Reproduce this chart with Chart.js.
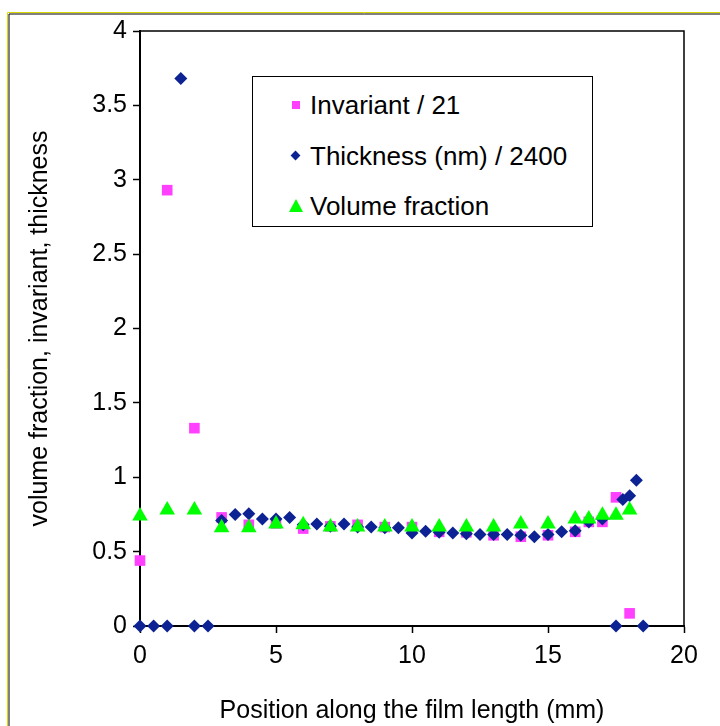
<!DOCTYPE html>
<html>
<head>
<meta charset="utf-8">
<script src="https://cdn.jsdelivr.net/npm/chart.js@4/dist/chart.umd.min.js"></script>
<style>
  html, body { margin: 0; padding: 0; background: #fff; }
  #wrap { position: relative; width: 720px; height: 726px; overflow: hidden; }
  #legend {
    position: absolute; left: 252px; top: 76px; width: 341px; height: 151px;
    box-sizing: border-box; border: 1.5px solid #000; background: #fff;
    font-family: "Liberation Sans", Arial, sans-serif; font-size: 26px; color: #000;
  }
  .row { position: absolute; left: 0; height: 30px; line-height: 30px; white-space: nowrap; }
  .row .txt { position: absolute; left: 57px; top: 0; }
  .mk { position: absolute; }
  .mk.rect { width: 8px; height: 8px; left: 39px; top: 11px; }
  .mk.rectRot { width: 7px; height: 7px; left: 39px; top: 11px; transform: rotate(45deg); }
  .mk.triangle { width: 0; height: 0; left: 36px; top: 8px; border-left: 7px solid transparent; border-right: 7px solid transparent; }
</style>
</head>
<body>
<div id="wrap">
  <canvas id="chart" width="720" height="726"></canvas>
  <div id="legend"></div>
</div>
<script>
'use strict';

// ---- data ----
var invX   = [0, 1, 2, 3, 4, 5, 6, 7, 8, 9, 10, 11, 12, 13, 14, 15, 16, 16.5, 17, 17.5, 18]
var invY   = [0.44, 2.93, 1.33, 0.73, 0.68, 0.69, 0.655, 0.67, 0.68, 0.665, 0.665, 0.633, 0.63, 0.61, 0.60, 0.61, 0.633, 0.70, 0.70, 0.865, 0.085]

var thickX = [0, 0.5, 1, 1.5, 2, 2.5, 3, 3.5, 4, 4.5, 5, 5.5, 6, 6.5, 7, 7.5, 8, 8.5, 9, 9.5,
              10, 10.5, 11, 11.5, 12, 12.5, 13, 13.5, 14, 14.5, 15, 15.5, 16, 16.5, 17, 17.5, 17.75, 18, 18.25, 18.5]
var thickY = [0, 0, 0, 3.68, 0, 0, 0.71, 0.75, 0.755, 0.72, 0.72, 0.73, 0.68, 0.685, 0.67, 0.685, 0.665, 0.665, 0.66, 0.66,
              0.625, 0.637, 0.63, 0.626, 0.62, 0.615, 0.615, 0.615, 0.61, 0.60, 0.615, 0.633, 0.64, 0.70, 0.72, 0, 0.85, 0.875, 0.98, 0]

var volX   = [0, 1, 2, 3, 4, 5, 6, 7, 8, 9, 10, 11, 12, 13, 14, 15, 16, 16.5, 17, 17.5, 18]
var volY   = [0.74, 0.78, 0.78, 0.66, 0.66, 0.685, 0.68, 0.665, 0.665, 0.665, 0.665, 0.665, 0.665, 0.665, 0.685, 0.685, 0.72, 0.72, 0.745, 0.745, 0.78]

var seriesLabels = ['Invariant / 21', 'Thickness (nm) / 2400', 'Volume fraction']
var xTicks = [0, 5, 10, 15, 20]
var yTicks = [0, 0.5, 1, 1.5, 2, 2.5, 3, 3.5, 4]
var xTitle = 'Position along the film length (mm)'
var yTitle = 'volume fraction, invariant, thickness'

var PINK  = '#ff40ff'
var NAVY  = '#0d2394'
var GREEN = '#00ff00'
var FONT  = { family: '"Liberation Sans", Arial, sans-serif', size: 25 }

function pts(xs, ys) {
	return xs.map(function (x, i) { return { x: x, y: ys[i] } })
}

var datasets = [
	{ label: seriesLabels[0], data: pts(invX, invY), pointStyle: 'rect', pointRadius: 7.5,
	  backgroundColor: PINK, borderColor: PINK, borderWidth: 0, order: 3, clip: false },
	{ label: seriesLabels[1], data: pts(thickX, thickY), pointStyle: 'rectRot', pointRadius: 6.5,
	  backgroundColor: NAVY, borderColor: NAVY, borderWidth: 0, order: 2, clip: false },
	{ label: seriesLabels[2], data: pts(volX, volY), pointStyle: 'triangle', pointRadius: 9,
	  backgroundColor: GREEN, borderColor: GREEN, borderWidth: 0, order: 1, clip: false }
]

// outer chart frame + plot box
var framePlugin = {
	id: 'frame',
	beforeDatasetsDraw: function (chart) {
		var ctx = chart.ctx, a = chart.chartArea
		ctx.save()
		ctx.lineWidth = 1.5
		ctx.strokeStyle = '#000'
		ctx.strokeRect(a.left, a.top, a.right - a.left, a.bottom - a.top)
		ctx.restore()
	},
	afterDraw: function (chart) {
		var ctx = chart.ctx
		ctx.save()
		ctx.lineWidth = 1
		ctx.strokeStyle = '#d8d800'
		ctx.beginPath(); ctx.moveTo(7.5, 726); ctx.lineTo(7.5, 12.5); ctx.lineTo(720, 12.5); ctx.stroke()
		ctx.strokeStyle = '#000'
		ctx.beginPath(); ctx.moveTo(9, 726); ctx.lineTo(9, 14); ctx.lineTo(720, 14); ctx.stroke()
		ctx.restore()
	}
}

var chart = new Chart(document.getElementById('chart'), {
	type: 'scatter',
	data: { datasets: datasets },
	plugins: [framePlugin],
	options: {
		responsive: false,
		animation: false,
		layout: { padding: { left: 0, right: 36, top: 31, bottom: 0 } },
		plugins: { legend: { display: false }, tooltip: { enabled: false } },
		scales: {
			x: {
				type: 'linear', min: 0, max: 20,
				afterBuildTicks: function (s) { s.ticks = xTicks.map(function (v) { return { value: v } }) },
				afterFit: function (s) { s.height = 100 },
				grid: { drawOnChartArea: false, tickLength: 7, tickColor: '#000', tickWidth: 1.5 },
				border: { color: '#000', width: 2 },
				ticks: { color: '#000', font: FONT, padding: 8, maxRotation: 0, callback: function (v) { return String(v) } },
				title: { display: true, text: xTitle, color: '#000', font: FONT, padding: { top: 0, bottom: 0 } }
			},
			y: {
				type: 'linear', min: 0, max: 4,
				afterBuildTicks: function (s) { s.ticks = yTicks.map(function (v) { return { value: v } }) },
				afterFit: function (s) { s.width = 140 },
				grid: { drawOnChartArea: false, tickLength: 7, tickColor: '#000', tickWidth: 1.5 },
				border: { color: '#000', width: 2 },
				ticks: { color: '#000', font: FONT, padding: 6, callback: function (v) { return String(v) } },
				title: { display: true, text: yTitle, color: '#000', font: FONT, padding: { top: 25, bottom: 0 } }
			}
		}
	}
})

// html legend built from the datasets
var legend = document.getElementById('legend')
var rowTops = [13, 64, 114]
datasets.forEach(function (ds, i) {
	var row = document.createElement('div')
	row.className = 'row'
	row.style.top = rowTops[i] + 'px'
	var mk = document.createElement('span')
	mk.className = 'mk ' + ds.pointStyle
	if (ds.pointStyle === 'triangle') mk.style.borderBottom = '13px solid ' + ds.backgroundColor
	else mk.style.background = ds.backgroundColor
	var txt = document.createElement('span')
	txt.className = 'txt'
	txt.textContent = ds.label
	row.appendChild(mk)
	row.appendChild(txt)
	legend.appendChild(row)
})
</script>
</body>
</html>
